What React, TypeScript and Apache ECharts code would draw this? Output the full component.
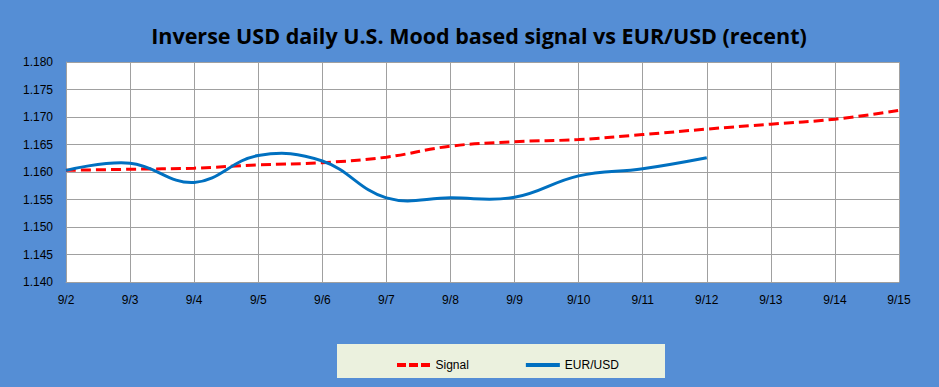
import React, { useEffect, useRef } from "react";
import * as echarts from "echarts";

const categories = ["9/2", "9/3", "9/4", "9/5", "9/6", "9/7", "9/8", "9/9", "9/10", "9/11", "9/12", "9/13", "9/14", "9/15"];
const signalValues = [1.1603, 1.1605, 1.1607, 1.1613, 1.1617, 1.1627, 1.1647, 1.1655, 1.1659, 1.1668, 1.1678, 1.1687, 1.1696, 1.1712];
const eurUsdValues = [1.1603, 1.1616, 1.1581, 1.1630, 1.1620, 1.1553, 1.1553, 1.1554, 1.1593, 1.1606, 1.1626, null, null, null];

export default function App() {
  const ref = useRef<HTMLDivElement>(null);
  useEffect(() => {
    if (!ref.current) return;
    const chart = echarts.init(ref.current, undefined, { renderer: "svg" });
    const font = "'Liberation Sans', Arial, sans-serif";
    const eurPoints = eurUsdValues
      .map((v, i) => [i, v])
      .filter((p) => p[1] !== null) as number[][];
    chart.setOption({
      animation: false,
      backgroundColor: "#558ED5",
      title: {
        text: "Inverse USD daily U.S. Mood based signal vs EUR/USD (recent)",
        left: 474,
        top: 19,
        textAlign: "center",
        textStyle: { fontFamily: "'Open Sans', sans-serif", fontWeight: "bold", fontSize: 21.5, color: "#000" },
      },
      graphic: [
        { type: "rect", shape: { x: 337, y: 344, width: 328, height: 34 }, style: { fill: "#EBF1DE" }, z: 0 },
      ],
      legend: {
        left: 392,
        top: 354,
        itemWidth: 34,
        itemHeight: 4,
        itemGap: 57,
        textStyle: { fontFamily: font, fontSize: 12, color: "#000" },
        data: [
          { name: "Signal", icon: "path://M0,0h9v4h-9z M12,0h9v4h-9z M24,0h9v4h-9z" },
          { name: "EUR/USD", icon: "rect" },
        ],
        z: 10,
      },
      grid: { left: 66, right: 40, top: 62, bottom: 105, show: true, backgroundColor: "#fff", borderWidth: 0 },
      xAxis: {
        type: "category",
        data: categories,
        boundaryGap: false,
        axisLine: { lineStyle: { color: "#A0A0A0" } },
        axisTick: { show: false },
        axisLabel: { margin: 12, fontFamily: font, fontSize: 12, color: "#000", interval: 0 },
        splitLine: { show: true, lineStyle: { color: "#A0A0A0", width: 1 } },
      },
      yAxis: {
        type: "value",
        min: 1.14,
        max: 1.18,
        interval: 0.005,
        axisLine: { show: true, lineStyle: { color: "#A0A0A0" } },
        axisTick: { show: false },
        axisLabel: { margin: 13, fontFamily: font, fontSize: 12, color: "#000", formatter: (v: number) => v.toFixed(3) },
        splitLine: { show: true, lineStyle: { color: "#A0A0A0", width: 1 } },
      },
      series: [
        {
          name: "Signal",
          type: "line",
          data: signalValues,
          smooth: 0.4,
          symbol: "none",
          lineStyle: { color: "#FF0000", width: 3, type: [10, 5] },
          itemStyle: { color: "#FF0000" },
          z: 3,
        },
        {
          name: "EUR/USD",
          type: "custom",
          data: eurPoints,
          encode: { x: 0, y: 1 },
          itemStyle: { color: "#0070C0" },
          z: 4,
          renderItem: (params: any, api: any) => {
            if (params.dataIndex !== 0) return null;
            const pts = eurPoints.map((p) => api.coord(p));
            return {
              type: "polyline",
              shape: { points: pts, smooth: 0.4 },
              style: { stroke: "#0070C0", lineWidth: 3, fill: null },
            };
          },
        },
      ],
    });
    return () => chart.dispose();
  }, []);
  return <div ref={ref} style={{ position: "absolute", left: 0, top: 0, width: 939, height: 387 }} />;
}
